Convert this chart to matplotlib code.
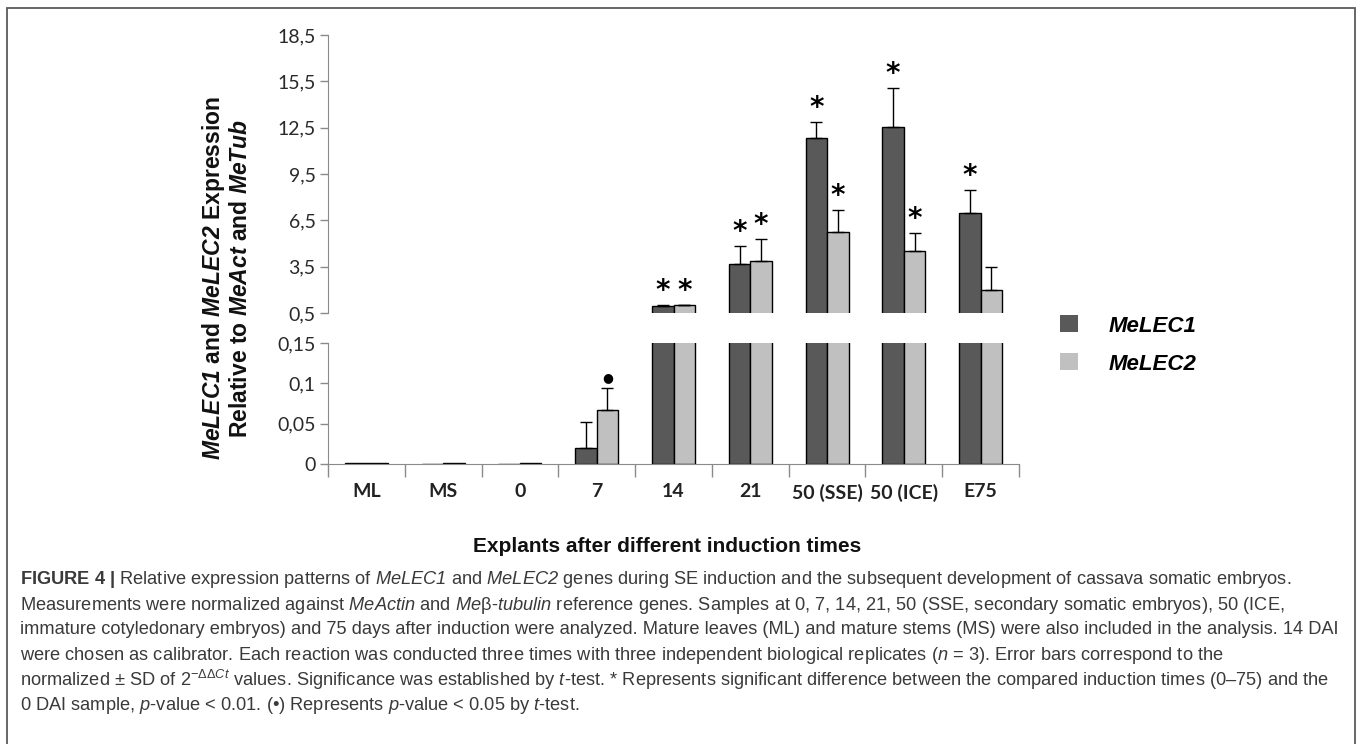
import matplotlib
matplotlib.use('Agg')
import matplotlib.pyplot as plt
from matplotlib import font_manager
from matplotlib.patches import Rectangle
import numpy as np

# data
categories = ['ML', 'MS', '0', '7', '14', '21', '50 (SSE)', '50 (ICE)', 'E75']
melec1 = [0.001, 0.0, 0.0, 0.0196, 0.93, 3.68, 11.84, 12.57, 6.96]
melec1_sd = [0, 0, 0, 0.033, 0.07, 1.18, 1.02, 2.5, 1.53]
melec2 = [0.001, 0.001, 0.001, 0.0675, 1.0, 3.89, 5.73, 4.54, 1.99]
melec2_sd = [0, 0, 0, 0.027, 0.03, 1.41, 1.47, 1.17, 1.49]
marks1 = ['', '', '', '', '*', '*', '*', '*', '*']
marks2 = ['', '', '', '●', '*', '*', '*', '*', '']

top_ticks = [0.5, 3.5, 6.5, 9.5, 12.5, 15.5, 18.5]
bot_ticks = [0, 0.05, 0.1, 0.15]
bot_labels = ['0', '0,05', '0,1', '0,15']

W, H = 1357, 744
DARK = '#595959'
LIGHT = '#c0c0c0'
AXC = '#8a8a8a'

try:
    font_manager.findfont('Liberation Sans Narrow', fallback_to_default=False)
    cap_font = 'Liberation Sans Narrow'
except ValueError:
    cap_font = 'Liberation Sans'

# sf -> italic caption words, tt -> bold italic gene names in the y title
# (mathtext keeps digits upright in \mathit, these fonts do not)
plt.rcParams['mathtext.fontset'] = 'custom'
plt.rcParams['mathtext.rm'] = cap_font
plt.rcParams['mathtext.it'] = cap_font + ':italic'
plt.rcParams['mathtext.sf'] = cap_font + ':italic'
plt.rcParams['mathtext.bf'] = cap_font + ':bold'
plt.rcParams['mathtext.tt'] = 'Liberation Sans:italic:bold'

tick_font = 'Lato'

fig = plt.figure(figsize=(W / 100, H / 100), dpi=100)
ax_top = fig.add_axes([328 / W, (H - 313) / H, 691 / W, 278 / H])
ax_bot = fig.add_axes([328 / W, (H - 464) / H, 691 / W, 121 / H])

x = np.arange(len(categories))
bw = 0.28

for ax in (ax_top, ax_bot):
    ax.bar(x - bw / 2, melec1, bw, color=DARK, edgecolor='black', linewidth=1.0, zorder=2)
    ax.bar(x + bw / 2, melec2, bw, color=LIGHT, edgecolor='black', linewidth=1.0, zorder=2)
    for off, vals, sds in ((-bw / 2, melec1, melec1_sd), (bw / 2, melec2, melec2_sd)):
        for i in range(len(x)):
            if sds[i] > 0:
                ax.errorbar(x[i] + off, vals[i], yerr=[[0], [sds[i]]], fmt='none',
                            ecolor='black', elinewidth=1.0, capsize=4, capthick=1.0, zorder=3)
    ax.set_xlim(-0.5, len(categories) - 0.5)
    for s in ('top', 'right'):
        ax.spines[s].set_visible(False)
    ax.spines['left'].set_color(AXC)
    ax.tick_params(axis='y', direction='out', length=6, width=1, color=AXC, pad=3,
                   labelsize=14, labelcolor='#2a2a2a')

# significance marks
for off, vals, sds, marks in ((-bw / 2, melec1, melec1_sd, marks1), (bw / 2, melec2, melec2_sd, marks2)):
    for i, m in enumerate(marks):
        if not m:
            continue
        top = vals[i] + sds[i]
        ax = ax_top if top > 0.5 else ax_bot
        if m == '*':
            ax.annotate('*', (x[i] + off, top), xytext=(0, 0), textcoords='offset points',
                        ha='center', va='bottom', fontsize=20, family='DejaVu Sans',
                        fontweight='bold', color='black')
        else:
            ax.annotate(m, (x[i] + off, top), xytext=(0, 3), textcoords='offset points',
                        ha='center', va='bottom', fontsize=9, family='DejaVu Sans', color='black')

ax_top.set_ylim(0.5, 18.5)
ax_top.set_yticks(top_ticks)
ax_top.set_yticklabels([f'{t:.1f}'.replace('.', ',') for t in top_ticks], family=tick_font)
ax_top.spines['bottom'].set_visible(False)
ax_top.set_xticks([])

ax_bot.set_ylim(0, 0.15)
ax_bot.set_yticks(bot_ticks)
ax_bot.set_yticklabels(bot_labels, family=tick_font)
ax_bot.spines['bottom'].set_color(AXC)
ax_bot.set_xticks(x)
ax_bot.set_xticklabels(categories, family=tick_font, fontweight='bold', fontsize=14, color='#222222')
ax_bot.set_xticks(np.arange(-0.5, len(categories)), minor=True)
ax_bot.tick_params(axis='x', which='major', length=0, pad=14)
ax_bot.tick_params(axis='x', which='minor', length=9, width=1, color=AXC, direction='out')

# axis titles
fig.text(226 / W, 1 - 278 / H,
         r'$\mathtt{MeLEC1}$ and $\mathtt{MeLEC2}$ Expression' + '\n' +
         r'Relative to $\mathtt{MeAct}$ and $\mathtt{MeTub}$',
         rotation=90, ha='center', va='center', multialignment='center',
         family='Liberation Sans', fontweight='bold', fontsize=16.5, linespacing=1.1,
         color='#111111')
fig.text(667 / W, 1 - 547 / H, 'Explants after different induction times',
         ha='center', va='center', family='Liberation Sans', fontweight='bold',
         fontsize=15, color='#111111')

# legend
handles = [Rectangle((0, 0), 1, 1, facecolor=DARK, edgecolor='none'),
           Rectangle((0, 0), 1, 1, facecolor=LIGHT, edgecolor='none')]
fig.legend(handles, ['MeLEC1', 'MeLEC2'], loc='center left',
           bbox_to_anchor=(1040 / W, 1 - 345 / H), frameon=False,
           prop=dict(family='Liberation Sans', weight='bold', style='italic', size=16),
           handlelength=0.8, handleheight=0.8, handletextpad=1.4, labelspacing=0.75)

# caption
caption = [
    r'$\mathbf{FIGURE\ 4\ |}$ Relative expression patterns of $\mathsf{MeLEC1}$ and $\mathsf{MeLEC2}$ genes during SE induction and the subsequent development of cassava somatic embryos.',
    r'Measurements were normalized against $\mathsf{MeActin}$ and $\mathsf{Me}$β-$\mathsf{tubulin}$ reference genes. Samples at 0, 7, 14, 21, 50 (SSE, secondary somatic embryos), 50 (ICE,',
    'immature cotyledonary embryos) and 75 days after induction were analyzed. Mature leaves (ML) and mature stems (MS) were also included in the analysis. 14 DAI',
    r'were chosen as calibrator. Each reaction was conducted three times with three independent biological replicates ($\mathsf{n}$ = 3). Error bars correspond to the',
    r'normalized ± SD of $2^{-\Delta\Delta \mathsf{Ct}}$ values. Significance was established by $\mathsf{t}$-test. * Represents significant difference between the compared induction times (0–75) and the',
    r'0 DAI sample, $\mathsf{p}$-value < 0.01. (•) Represents $\mathsf{p}$-value < 0.05 by $\mathsf{t}$-test.',
]
renderer = fig.canvas.get_renderer()
probe = fig.text(0, 0, caption[4], family=cap_font, fontsize=12)
cap_size = 12 * (1330 - 20) / probe.get_window_extent(renderer).width
probe.remove()
for k, line in enumerate(caption):
    fig.text(20 / W, 1 - (580 + 25 * k) / H, line, ha='left', va='center',
             family=cap_font, fontsize=cap_size, color='#3a3a3a')

# frame round the figure
fig.patches.append(Rectangle((7 / W, -0.05), (1355 - 7) / W, 1.05 - 8 / H,
                             transform=fig.transFigure, fill=False,
                             edgecolor='#5a5a5a', linewidth=1.3))

fig.savefig('out.png', dpi=100)
